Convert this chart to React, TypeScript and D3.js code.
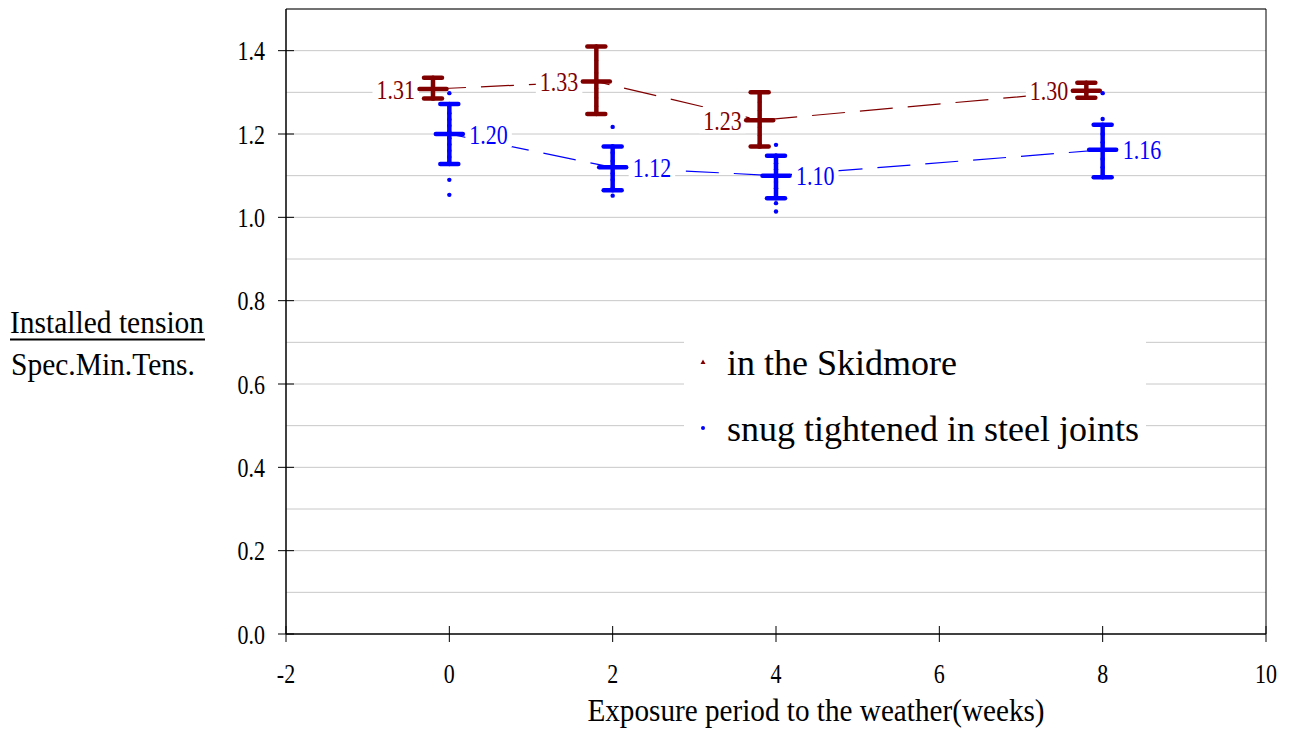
import React from "react";
import * as d3 from "d3";

const weeks = [0, 2, 4, 8];
const skidMean = [1.308, 1.326, 1.233, 1.304];
const skidHigh = [1.335, 1.41, 1.3, 1.323];
const skidLow = [1.285, 1.248, 1.17, 1.287];
const snugMean = [1.2, 1.12, 1.1, 1.162];
const snugHigh = [1.272, 1.17, 1.148, 1.222];
const snugLow = [1.128, 1.065, 1.046, 1.096];

const skidPoints = [
  [1.335, 1.32, 1.31, 1.3, 1.29, 1.285],
  [1.41, 1.38, 1.35, 1.33, 1.313, 1.29, 1.27, 1.25],
  [1.3, 1.28, 1.26, 1.24, 1.22, 1.2, 1.18, 1.17],
  [1.323, 1.31, 1.3, 1.287],
];
const snugPoints = [
  [1.298, 1.27, 1.25, 1.235, 1.22, 1.205, 1.19, 1.175, 1.16, 1.145, 1.13, 1.09, 1.054],
  [1.217, 1.17, 1.155, 1.135, 1.12, 1.105, 1.09, 1.07, 1.052],
  [1.174, 1.148, 1.13, 1.115, 1.1, 1.085, 1.07, 1.05, 1.034, 1.014],
  [1.298, 1.236, 1.22, 1.2, 1.18, 1.16, 1.14, 1.12, 1.1],
];

const xTicks = [-2, 0, 2, 4, 6, 8, 10];
const yTicks = [0, 0.2, 0.4, 0.6, 0.8, 1.0, 1.2, 1.4];
const yGrid = d3.range(1, 16).map((i) => i / 10);

const seriesNames = ["in the Skidmore", "snug tightened in steel joints"];
const xTitle = "Exposure period to the weather(weeks)";
const yTitleTop = "Installed tension";
const yTitleBottom = "Spec.Min.Tens.";

const RED = "#800000";
const BLUE = "#0000ff";
const FONT = "'Liberation Serif', 'Times New Roman', serif";
const SKID_OFFSET = -0.2;

function SText(props: {
  x: number;
  y: number;
  size: number;
  sy?: number;
  anchor?: "start" | "middle" | "end";
  fill?: string;
  children: React.ReactNode;
}) {
  const { x, y, size, sy = 1, anchor = "start", fill = "#000", children } = props;
  return (
    <text
      transform={`translate(${x},${y}) scale(1,${sy})`}
      textAnchor={anchor}
      fontSize={size}
      fill={fill}
    >
      {children}
    </text>
  );
}

export default function App() {
  const W = 1294;
  const H = 732;
  const x = d3.scaleLinear().domain([-2, 10]).range([286, 1266]);
  const y = d3.scaleLinear().domain([0, 1.5]).range([634, 9]);
  const fmt = d3.format(".2f");
  const fmtY = d3.format(".1f");

  const skidLine = d3
    .line<number>()
    .x((_, i) => x(weeks[i] + SKID_OFFSET))
    .y((d) => y(d));
  const snugLine = d3
    .line<number>()
    .x((_, i) => x(weeks[i]))
    .y((d) => y(d));

  const capW = 18;
  const meanW = 27;
  const sw = 4.5;

  const labelFont = 22;
  const labelSy = 1.2;
  const charW = (s: string) => s.length * 0.4375 * labelFont;

  const errBar = (cx: number, m: number, hi: number, lo: number, color: string, key: string) => (
    <g key={key} stroke={color} strokeWidth={sw} strokeLinecap="round">
      <line x1={cx} x2={cx} y1={y(hi)} y2={y(lo)} />
      <line x1={cx - capW / 2} x2={cx + capW / 2} y1={y(hi)} y2={y(hi)} />
      <line x1={cx - capW / 2} x2={cx + capW / 2} y1={y(lo)} y2={y(lo)} />
      <line x1={cx - meanW / 2} x2={cx + meanW / 2} y1={y(m)} y2={y(m)} />
    </g>
  );

  const tri = (cx: number, cy: number, r: number) =>
    `M${cx},${cy - r}L${cx + r},${cy + r * 0.8}L${cx - r},${cy + r * 0.8}Z`;

  return (
    <svg
      width={W}
      height={H}
      style={{ position: "absolute", left: 0, top: 0, background: "#fff" }}
      fontFamily={FONT}
    >
      <rect x={0} y={0} width={W} height={H} fill="#fff" />
      {yGrid.map((v) => (
        <line key={"g" + v} x1={x(-2)} x2={x(10)} y1={y(v)} y2={y(v)} stroke="#c8c8c8" strokeWidth={1} />
      ))}
      <line x1={x(-2)} x2={x(10)} y1={y(1.5)} y2={y(1.5)} stroke="#000" strokeWidth={1} />
      <line x1={x(10)} x2={x(10)} y1={y(1.5)} y2={y(0)} stroke="#000" strokeWidth={1} />
      <line x1={x(-2)} x2={x(-2)} y1={y(1.5)} y2={y(0)} stroke="#000" strokeWidth={1.5} />
      <line x1={x(-2)} x2={x(10)} y1={y(0)} y2={y(0)} stroke="#000" strokeWidth={1.5} />
      {yTicks.map((v) => (
        <g key={"yt" + v}>
          <line x1={x(-2) - 8} x2={x(-2) + 8} y1={y(v)} y2={y(v)} stroke="#000" strokeWidth={1} />
          <SText x={265} y={y(v) + 9.5} size={22} sy={1.2} anchor="end">
            {fmtY(v)}
          </SText>
        </g>
      ))}
      {xTicks.map((v) => (
        <g key={"xt" + v}>
          <line x1={x(v)} x2={x(v)} y1={y(0) - 8} y2={y(0) + 8} stroke="#000" strokeWidth={1} />
          <SText x={x(v)} y={683} size={22} sy={1.2} anchor="middle">
            {v}
          </SText>
        </g>
      ))}
      <SText x={816} y={721} size={29.2} sy={1.1} anchor="middle">
        {xTitle}
      </SText>
      <SText x={10} y={333} size={29.5} sy={1.1}>
        {yTitleTop}
      </SText>
      <line x1={10} x2={205} y1={339.5} y2={339.5} stroke="#000" strokeWidth={2} />
      <SText x={11} y={375} size={29.5} sy={1.1}>
        {yTitleBottom}
      </SText>

      <path d={skidLine(skidMean) || ""} fill="none" stroke={RED} strokeWidth={1.2} strokeDasharray="33 15" />
      <path d={snugLine(snugMean) || ""} fill="none" stroke={BLUE} strokeWidth={1.2} strokeDasharray="33 15" />

      {skidMean.map((m, i) => {
        const t = fmt(m);
        const right = x(weeks[i] + SKID_OFFSET) - 18;
        const w = charW(t);
        return (
          <g key={"sl" + i}>
            <rect x={right - w - 4} y={y(m) - 13} width={w + 8} height={26} fill="#fff" />
            <SText x={right} y={y(m) + 9.5} size={labelFont} sy={labelSy} anchor="end" fill={RED}>
              {t}
            </SText>
          </g>
        );
      })}
      {snugMean.map((m, i) => {
        const t = fmt(m);
        const left = x(weeks[i]) + 20;
        const w = charW(t);
        return (
          <g key={"nl" + i}>
            <rect x={left - 4} y={y(m) - 13} width={w + 8} height={26} fill="#fff" />
            <SText x={left} y={y(m) + 9.5} size={labelFont} sy={labelSy} anchor="start" fill={BLUE}>
              {t}
            </SText>
          </g>
        );
      })}

      {skidMean.map((m, i) => errBar(x(weeks[i] + SKID_OFFSET), m, skidHigh[i], skidLow[i], RED, "se" + i))}
      {snugMean.map((m, i) => errBar(x(weeks[i]), m, snugHigh[i], snugLow[i], BLUE, "ne" + i))}

      {skidPoints.map((arr, i) =>
        arr.map((v, j) => (
          <path key={`sp${i}-${j}`} d={tri(x(weeks[i] + SKID_OFFSET), y(v), 2.2)} fill={RED} />
        ))
      )}
      {snugPoints.map((arr, i) =>
        arr.map((v, j) => <circle key={`np${i}-${j}`} cx={x(weeks[i])} cy={y(v)} r={2.2} fill={BLUE} />)
      )}

      <rect x={684} y={334} width={462} height={128} fill="#fff" />
      <path d={tri(703, 362, 2.5)} fill={RED} />
      <SText x={727} y={375} size={36}>
        {seriesNames[0]}
      </SText>
      <circle cx={703} cy={428} r={2} fill={BLUE} />
      <SText x={727} y={441} size={36}>
        {seriesNames[1]}
      </SText>
    </svg>
  );
}
